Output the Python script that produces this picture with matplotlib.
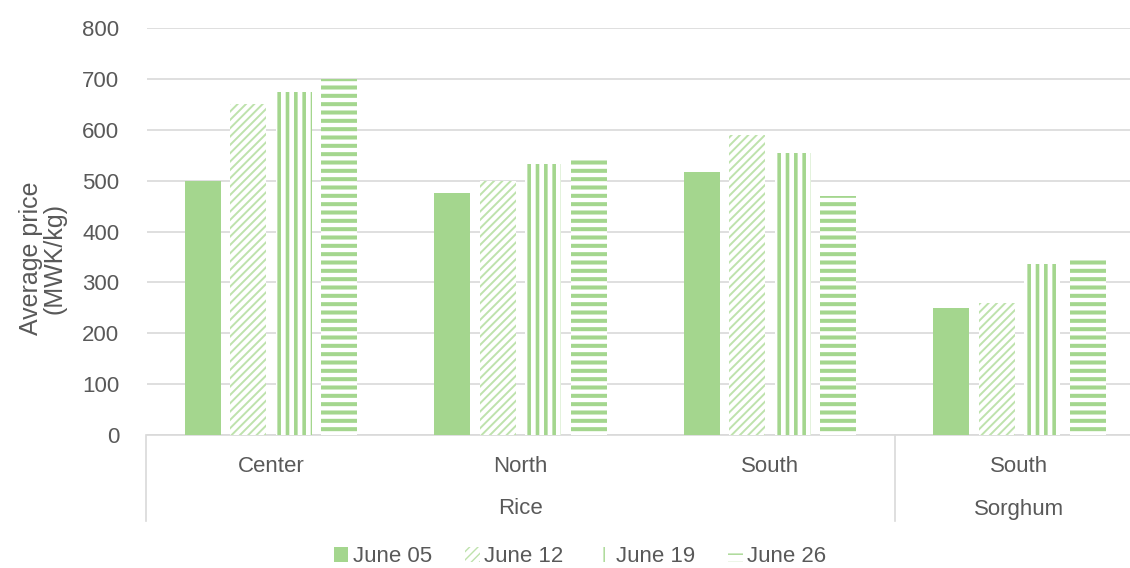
import matplotlib
matplotlib.use("Agg")
import matplotlib.pyplot as plt
import numpy as np

plt.rcParams['font.family'] = ['Liberation Sans', 'DejaVu Sans']

regions = ["Center", "North", "South", "South"]
crops = ["Rice", "Sorghum"]
crop_spans = [3, 1]
series = ["June 05", "June 12", "June 19", "June 26"]
june05 = [500, 475, 517, 250]
june12 = [650, 500, 590, 260]
june19 = [675, 533, 555, 337]
june26 = [700, 540, 470, 350]

GREEN = '#A4D68E'
LIGHT = '#BEE2AC'
TEXT = '#595959'
GRID = '#D9D9D9'
FS = 16

fig = plt.figure(figsize=(11.3, 5.68), dpi=100)
W, H = 1130, 568
ax = fig.add_axes([147 / W, (H - 435) / H, (W - 147) / W, (435 - 28) / H])

values = [june05, june12, june19, june26]
hatches = [None, '////', '||', '--']
hatch_lw = [0, 1.4, 2.6, 2.9]
x = np.arange(len(regions))
width = 0.145
step = 0.182

handles = []
for i, (vals, hatch) in enumerate(zip(values, hatches)):
    pos = x + (i - 1.5) * step
    if hatch is None:
        bars = ax.bar(pos, vals, width, color=GREEN, linewidth=0, zorder=3, label=series[i])
    else:
        bars = ax.bar(pos, vals, width, facecolor='white', edgecolor=GREEN if i > 1 else LIGHT,
                      linewidth=0, hatch=hatch, zorder=3, label=series[i])
        for b in bars:
            if hasattr(b, 'set_hatch_linewidth'):
                b.set_hatch_linewidth(hatch_lw[i])
    handles.append(bars)

ax.set_ylim(0, 800)
ax.set_xlim(-(271 - 147) / 249.5, (W - 271) / 249.5)
ax.set_yticks(range(0, 801, 100))
ax.yaxis.grid(True, color=GRID, linewidth=1.2, zorder=0)
ax.set_axisbelow(True)
for s in ['top', 'right', 'left']:
    ax.spines[s].set_visible(False)
ax.spines['bottom'].set_color(GRID)
ax.spines['bottom'].set_linewidth(1.2)
ax.tick_params(axis='y', length=0, labelsize=FS, labelcolor=TEXT, pad=20)
ax.tick_params(axis='x', length=0)
ax.set_xticks([])

fig.text(43 / W, 1 - 258 / H, "Average price\n(MWK/kg)", rotation=90, ha='center', va='center',
         fontsize=18, color=TEXT, linespacing=0.95, multialignment='center')

# category labels (two levels)
trans = ax.get_xaxis_transform()
for xi, r in zip(x, regions):
    ax.text(xi, -31 / 407, r, transform=trans, ha='center', va='center', fontsize=FS, color=TEXT)
start = 0
for c, n in zip(crops, crop_spans):
    ax.text(start + (n - 1) / 2, -74 / 407, c, transform=trans, ha='center', va='center',
            fontsize=FS, color=TEXT)
    start += n
for xb in [-0.5, 2.5]:
    ax.plot([xb, xb], [0, -86 / 407], transform=trans, color=GRID, linewidth=1.2, clip_on=False)

leg = fig.legend(handles=handles, labels=series, loc='center', bbox_to_anchor=(580 / W, 1 - 557 / H),
                 ncol=4, frameon=False, fontsize=FS, labelcolor=TEXT, handlelength=0.65,
                 handleheight=0.65, handletextpad=0.2, columnspacing=1.5)

fig.savefig("out.png", dpi=100)
